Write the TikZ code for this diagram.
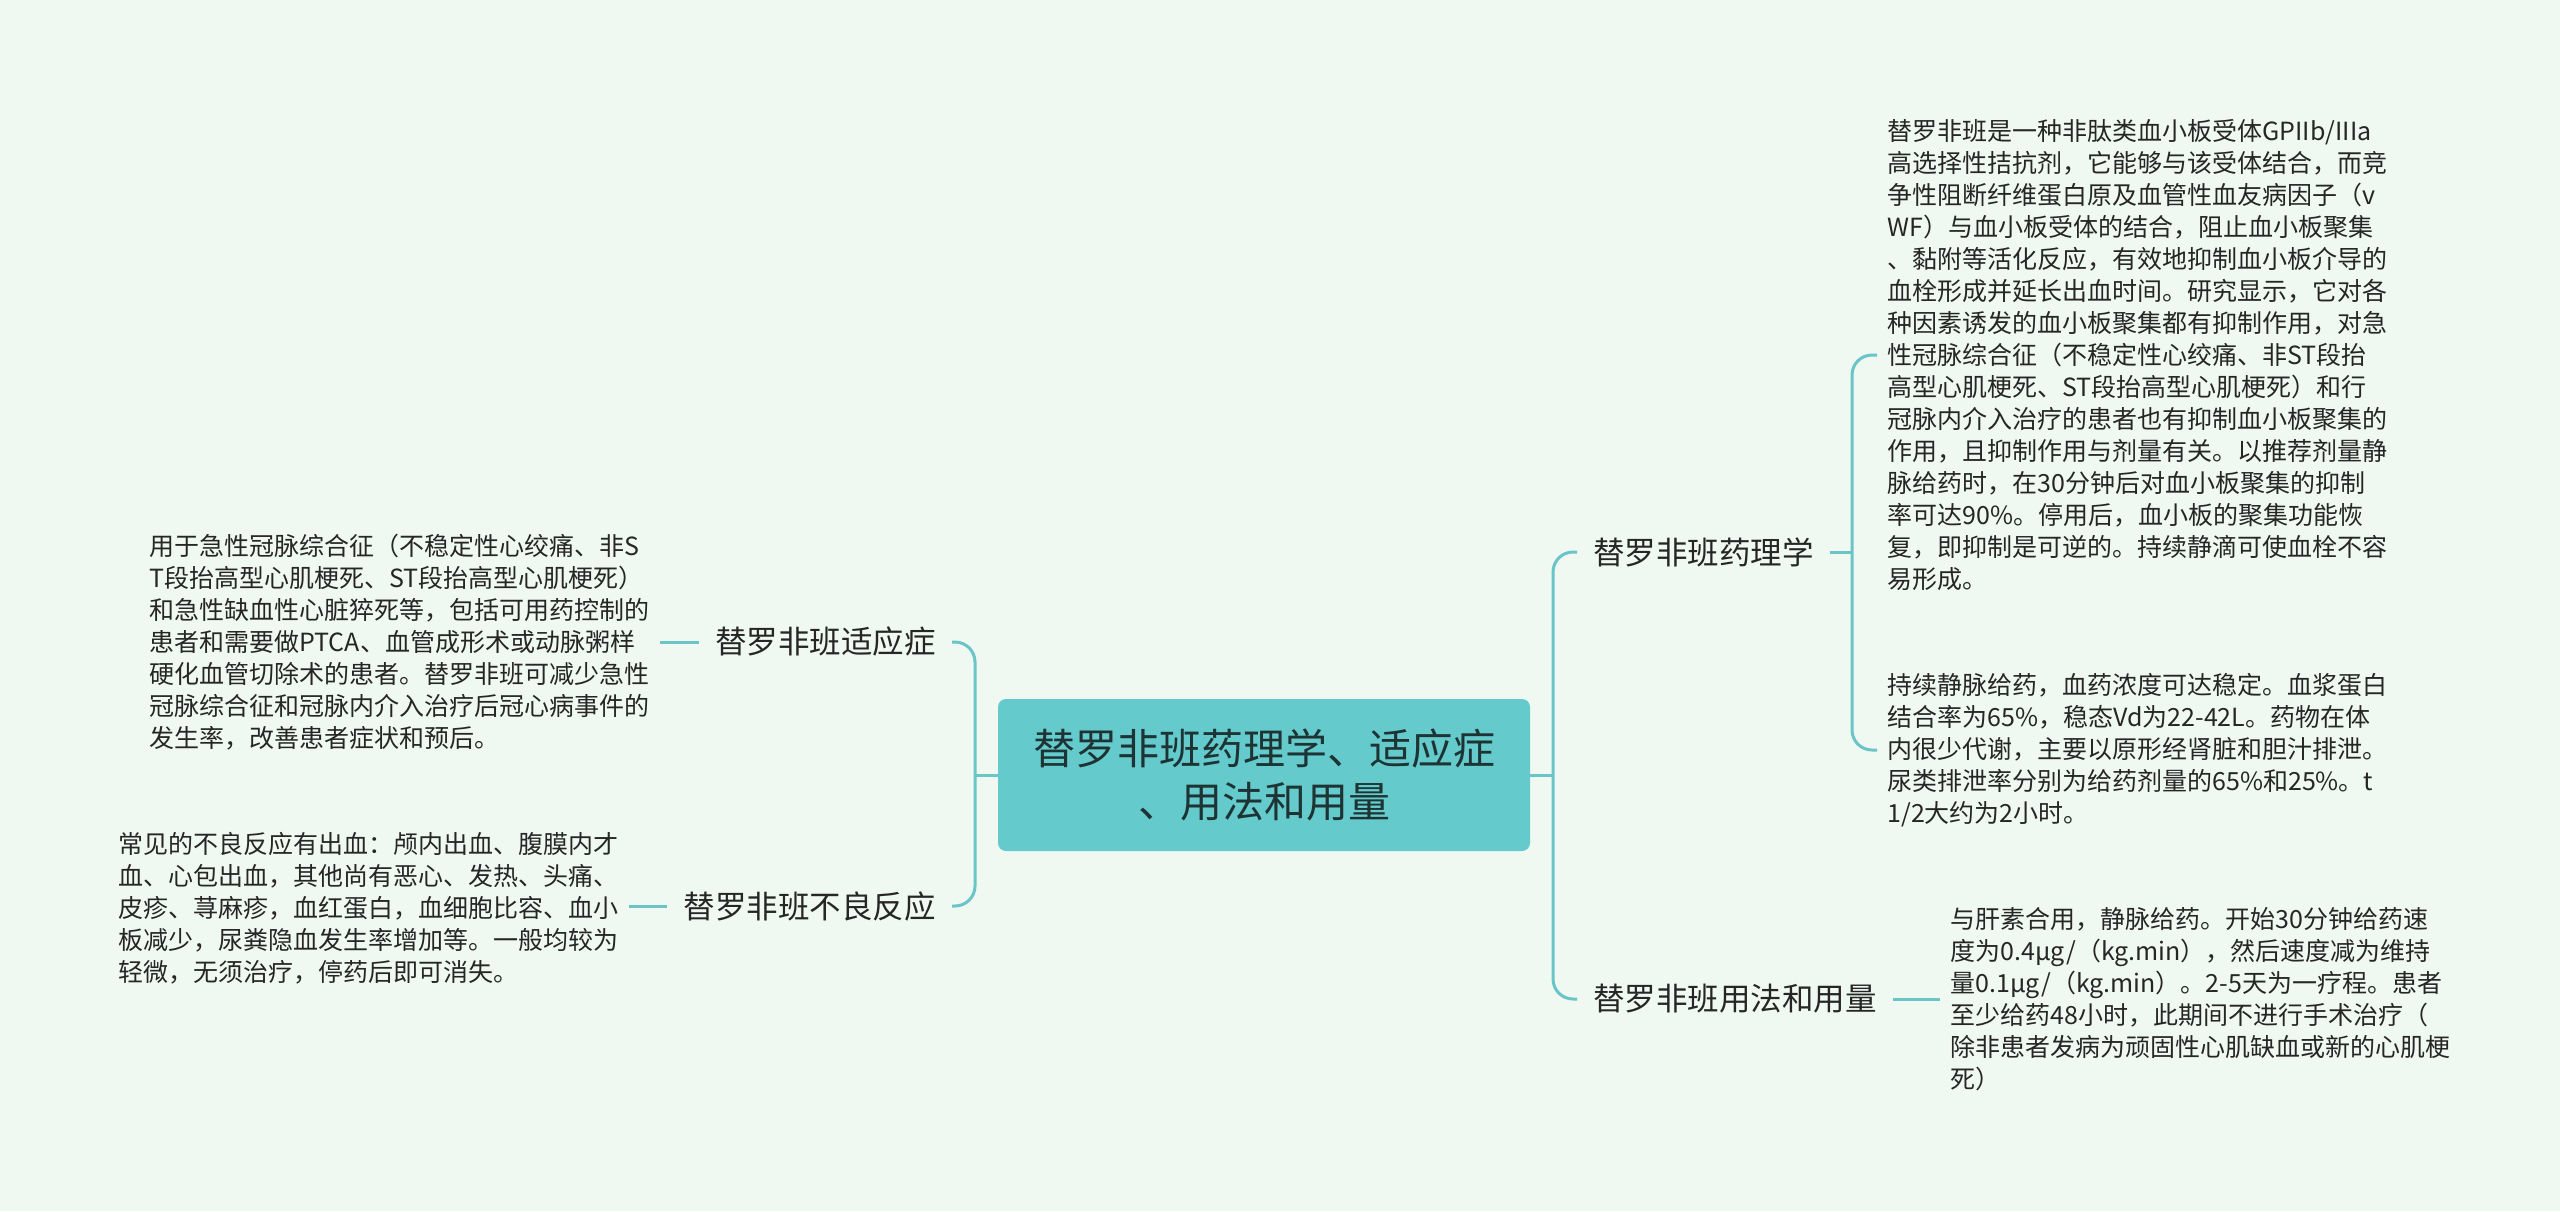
\documentclass[tikz,border=0pt]{standalone}
\usepackage{fontspec}
\setmainfont{Noto Sans CJK SC}
\definecolor{bg}{HTML}{F0F9F1}
\definecolor{lineC}{HTML}{6AC4C8}
\definecolor{centfill}{HTML}{64CACC}
\definecolor{txt}{HTML}{262626}
\definecolor{centtxt}{HTML}{1E3333}
\begin{document}
\begin{tikzpicture}[x=0.5pt,y=-0.5pt,
  conn/.style={draw=lineC, line width=1.5pt, rounded corners=10pt},
  leaf/.style={inner xsep=5pt, inner ysep=0pt, align=left, text=txt, font=\fontsize{12.5pt}{16pt}\selectfont},
  branch/.style={inner xsep=8pt, inner ysep=2pt, text=txt, font=\fontsize{15.75pt}{19pt}\selectfont},
  root/.style={fill=centfill, rounded corners=4pt, minimum width=266pt, minimum height=76pt, align=center, text=centtxt, font=\fontsize{21pt}{26.75pt}\selectfont}]
\fill[bg] (0,0) rectangle (2560,1211);
\useasboundingbox (0,0) rectangle (2560,1211);

\node[root] (c) at (1264,775) {替罗非班药理学、适应症\\、用法和用量};

\node[branch, anchor=east] (ind) at (952,642) {替罗非班适应症};
\node[branch, anchor=east] (adv) at (952,906) {替罗非班不良反应};
\node[branch, anchor=west] (pha) at (1577,552) {替罗非班药理学};
\node[branch, anchor=west] (use) at (1577,999) {替罗非班用法和用量};

\node[leaf, anchor=west] (l1) at (139,642) {用于急性冠脉综合征（不稳定性心绞痛、非S\\
T段抬高型心肌梗死、ST段抬高型心肌梗死）\\
和急性缺血性心脏猝死等，包括可用药控制的\\
患者和需要做PTCA、血管成形术或动脉粥样\\
硬化血管切除术的患者。替罗非班可减少急性\\
冠脉综合征和冠脉内介入治疗后冠心病事件的\\
发生率，改善患者症状和预后。};

\node[leaf, anchor=west] (l2) at (108,908) {常见的不良反应有出血：颅内出血、腹膜内才\\
血、心包出血，其他尚有恶心、发热、头痛、\\
皮疹、荨麻疹，血红蛋白，血细胞比容、血小\\
板减少，尿粪隐血发生率增加等。一般均较为\\
轻微，无须治疗，停药后即可消失。};

\node[leaf, anchor=west] (r1) at (1877,355) {替罗非班是一种非肽类血小板受体GPIIb/IIIa\\
高选择性拮抗剂，它能够与该受体结合，而竞\\
争性阻断纤维蛋白原及血管性血友病因子（v\\
WF）与血小板受体的结合，阻止血小板聚集\\
、黏附等活化反应，有效地抑制血小板介导的\\
血栓形成并延长出血时间。研究显示，它对各\\
种因素诱发的血小板聚集都有抑制作用，对急\\
性冠脉综合征（不稳定性心绞痛、非ST段抬\\
高型心肌梗死、ST段抬高型心肌梗死）和行\\
冠脉内介入治疗的患者也有抑制血小板聚集的\\
作用，且抑制作用与剂量有关。以推荐剂量静\\
脉给药时，在30分钟后对血小板聚集的抑制\\
率可达90\%。停用后，血小板的聚集功能恢\\
复，即抑制是可逆的。持续静滴可使血栓不容\\
易形成。};

\node[leaf, anchor=west] (r2) at (1877,750) {持续静脉给药，血药浓度可达稳定。血浆蛋白\\
结合率为65\%，稳态Vd为22-42L。药物在体\\
内很少代谢，主要以原形经肾脏和胆汁排泄。\\
尿类排泄率分别为给药剂量的65\%和25\%。t\\
1/2大约为2小时。};

\node[leaf, anchor=west] (r3) at (1940,999) {与肝素合用，静脉给药。开始30分钟给药速\\
度为0.4μg/（kg.min），然后速度减为维持\\
量0.1μg/（kg.min）。2-5天为一疗程。患者\\
至少给药48小时，此期间不进行手术治疗（\\
除非患者发病为顽固性心肌缺血或新的心肌梗\\
死）};

\draw[conn] (c.west) -- (975,775);
\draw[conn] (ind.east) -- (975,642) -- (975,906) -- (adv.east);
\draw[conn] (l1.east) -- (ind.west);
\draw[conn] (l2.east |- adv.west) -- (adv.west);

\draw[conn] (c.east) -- (1553,775);
\draw[conn] (pha.west) -- (1553,552) -- (1553,999) -- (use.west);
\draw[conn] (pha.east) -- (1852,552);
\draw[conn] (r1.west) -- (1852,355) -- (1852,750) -- (r2.west);
\draw[conn] (use.east) -- (r3.west);
\end{tikzpicture}
\end{document}
